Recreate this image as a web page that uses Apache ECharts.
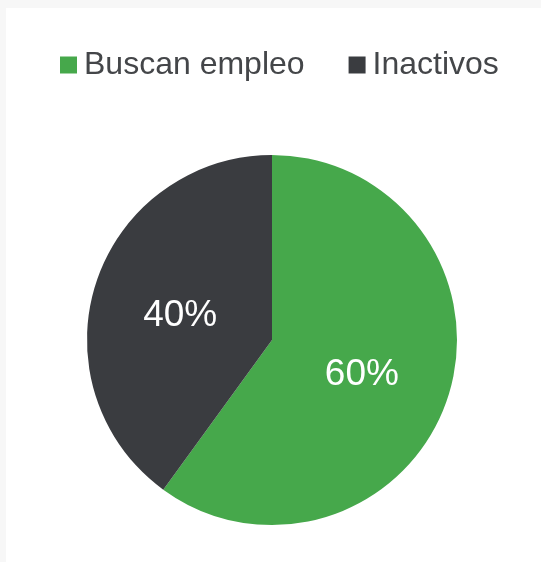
<!DOCTYPE html>
<html>
<head>
<meta charset="utf-8">
<script src="https://cdn.jsdelivr.net/npm/echarts@6/dist/echarts.min.js"></script>
<style>
  html, body { margin: 0; padding: 0; background: #f7f7f7; }
  #main { position: absolute; left: 6px; top: 8px; width: 535px; height: 554px; background: #fff; }
</style>
</head>
<body>
<div id="main"></div>
<script>
const categories = ['Buscan empleo', 'Inactivos'];
const values = [60, 40];
const colors = ['#46a84b', '#3a3c40'];

var myChart = echarts.init(document.getElementById('main'));
const option = {
  backgroundColor: '#fff',
  legend: {
    top: 36,
    left: 49,
    padding: 5,
    itemWidth: 17,
    itemHeight: 17,
    itemGap: 44,
    icon: 'rect',
    textStyle: {
      fontFamily: 'Liberation Sans, Arial, sans-serif',
      fontSize: 32,
      color: '#444649',
      padding: [0, 0, 0, 2]
    },
    data: categories
  },
  series: [{
    type: 'pie',
    center: [266, 332],
    radius: 185,
    startAngle: 90,
    clockwise: true,
    silent: true,
    label: {
      show: true,
      position: 'inside',
      formatter: '{c}%',
      color: '#fff',
      fontSize: 37,
      fontFamily: 'Liberation Sans, Arial, sans-serif',
      offset: [-1, 5]
    },
    labelLine: { show: false },
    itemStyle: { borderWidth: 0 },
    data: categories.map((name, i) => ({
      name: name,
      value: values[i],
      itemStyle: { color: colors[i] }
    }))
  }]
};
myChart.setOption(option);
</script>
</body>
</html>
